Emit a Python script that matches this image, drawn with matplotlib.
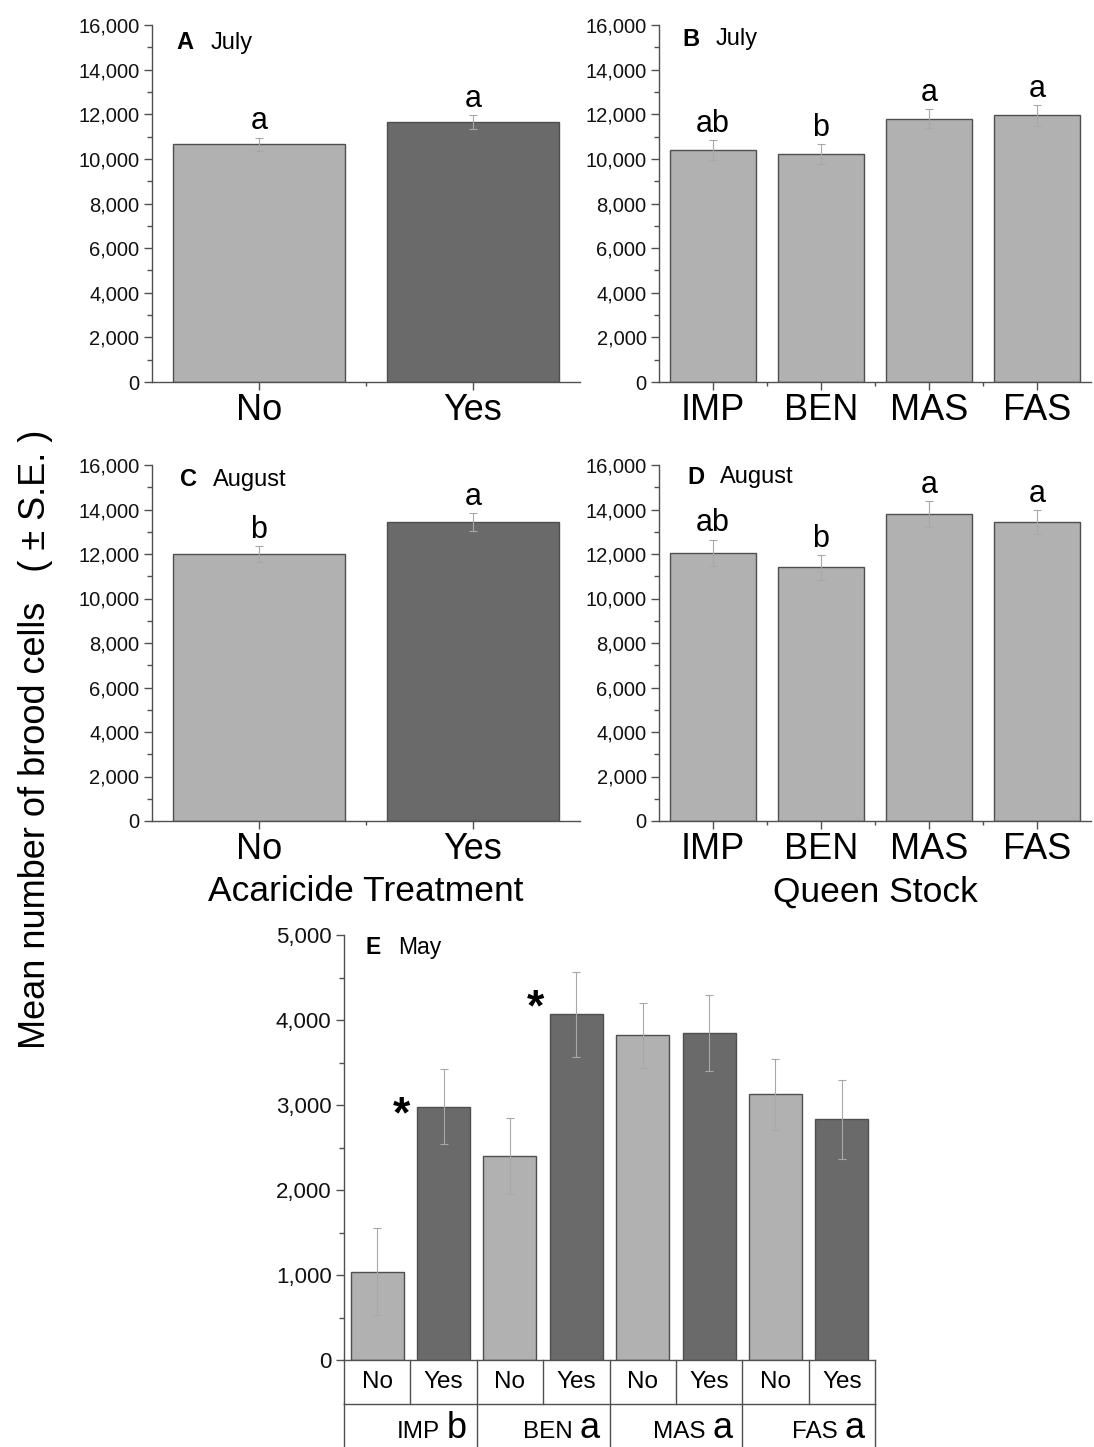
import matplotlib
matplotlib.use('Agg')
import matplotlib.pyplot as plt
import matplotlib.transforms as mtransforms
from matplotlib.ticker import MultipleLocator, StrMethodFormatter, FixedLocator
import numpy as np

plt.rcParams['font.family'] = ['Liberation Sans', 'DejaVu Sans']

LIGHT = '#b1b1b1'
DARK = '#6a6a6a'
EDGE = '#4f4f4f'
ERR = '#a8a8a8'
SPINE = '#505050'

treatment = ['No', 'Yes']
stocks = ['IMP', 'BEN', 'MAS', 'FAS']

# A: July, by acaricide treatment
july_trt = [10650, 11650]
july_trt_se = [300, 300]
july_trt_grp = ['a', 'a']

# B: July, by queen stock
july_stock = [10400, 10200, 11800, 11950]
july_stock_se = [450, 450, 430, 470]
july_stock_grp = ['ab', 'b', 'a', 'a']

# C: August, by acaricide treatment
aug_trt = [12000, 13450]
aug_trt_se = [350, 400]
aug_trt_grp = ['b', 'a']

# D: August, by queen stock
aug_stock = [12050, 11400, 13800, 13450]
aug_stock_se = [600, 550, 580, 530]
aug_stock_grp = ['ab', 'b', 'a', 'a']

# E: May, stock x treatment
may_no = [1040, 2400, 3820, 3125]
may_no_se = [510, 445, 380, 420]
may_yes = [2980, 4065, 3845, 2830]
may_yes_se = [440, 500, 450, 460]
may_stock_grp = ['b', 'a', 'a', 'a']
may_star_x = [0.36, 2.39]
may_star_y = [2740, 4000]

W, H = 1094, 1447
fig = plt.figure(figsize=(W / 100, H / 100), dpi=100)


def style_axis(ax, ysize):
    for s in ['top', 'right']:
        ax.spines[s].set_visible(False)
    for s in ['left', 'bottom']:
        ax.spines[s].set_color(SPINE)
        ax.spines[s].set_linewidth(1)
    ax.tick_params(axis='y', which='major', length=6, width=1, color=SPINE,
                   labelsize=ysize, pad=3, labelcolor='#111111')
    ax.tick_params(axis='y', which='minor', length=3.5, width=1, color=SPINE)
    ax.yaxis.set_major_formatter(StrMethodFormatter('{x:,.0f}'))


def panel_title(ax, tag, month, fx, fy, size=17):
    ax.text(fx, fy, tag, transform=ax.transAxes, fontsize=size,
            fontweight='bold', va='center', ha='left')
    tr = mtransforms.offset_copy(ax.transAxes, fig=fig, x=24, y=0, units='points')
    ax.text(fx, fy, month, transform=tr, fontsize=size, va='center', ha='left')


def small_panel(rect, labels, vals, se, grp, colors, tag, month, tpos, xlabel=None):
    ax = fig.add_axes(rect)
    x = np.arange(len(vals))
    ax.bar(x, vals, width=0.8, color=colors, edgecolor=EDGE, linewidth=1, zorder=2)
    ax.errorbar(x, vals, yerr=se, fmt='none', ecolor=ERR, elinewidth=0.8,
                capsize=3, capthick=0.8, zorder=3)
    for xi, v, s, g in zip(x, vals, se, grp):
        ax.text(xi, v + s + 370, g, ha='center', va='baseline', fontsize=22)
    ax.set_xlim(-0.5, len(vals) - 0.5)
    ax.set_ylim(0, 16000)
    ax.yaxis.set_major_locator(MultipleLocator(2000))
    ax.yaxis.set_minor_locator(MultipleLocator(1000))
    style_axis(ax, 14.5)
    ax.set_xticks(x)
    ax.set_xticklabels(labels, fontsize=26)
    ax.xaxis.set_minor_locator(FixedLocator(np.arange(0.5, len(vals) - 1, 1.0)))
    ax.tick_params(axis='x', which='major', length=6, width=1, color=SPINE, pad=2)
    ax.tick_params(axis='x', which='minor', length=3, width=1, color=SPINE)
    if xlabel:
        ax.set_xlabel(xlabel, fontsize=25.5, labelpad=6)
    panel_title(ax, tag, month, *tpos)
    return ax


rowA = [1 - 382 / H, 357 / H]
rowC = [1 - 821 / H, 356 / H]
small_panel([152 / W, rowA[0], 428 / W, rowA[1]], treatment, july_trt, july_trt_se,
            july_trt_grp, [LIGHT, DARK], 'A', 'July', (0.058, 0.95))
small_panel([659 / W, rowA[0], 432 / W, rowA[1]], stocks, july_stock, july_stock_se,
            july_stock_grp, LIGHT, 'B', 'July', (0.053, 0.96))
small_panel([152 / W, rowC[0], 428 / W, rowC[1]], treatment, aug_trt, aug_trt_se,
            aug_trt_grp, [LIGHT, DARK], 'C', 'August', (0.065, 0.958),
            xlabel='Acaricide Treatment')
small_panel([659 / W, rowC[0], 432 / W, rowC[1]], stocks, aug_stock, aug_stock_se,
            aug_stock_grp, LIGHT, 'D', 'August', (0.065, 0.966),
            xlabel='Queen Stock')

# E: May
axE = fig.add_axes([344 / W, 1 - 1360 / H, 531 / W, 425 / H])
may_vals = [v for pair in zip(may_no, may_yes) for v in pair]
may_se = [s for pair in zip(may_no_se, may_yes_se) for s in pair]
may_cols = [LIGHT, DARK] * len(stocks)
xe = np.arange(len(may_vals))
axE.bar(xe, may_vals, width=0.8, color=may_cols, edgecolor=EDGE, linewidth=1, zorder=2)
axE.errorbar(xe, may_vals, yerr=may_se, fmt='none', ecolor=ERR, elinewidth=0.8,
             capsize=3, capthick=0.8, zorder=3)
for sx, sy in zip(may_star_x, may_star_y):
    axE.text(sx, sy, '*', ha='center', va='baseline', fontsize=32, fontweight='bold')
axE.set_xlim(-0.5, len(may_vals) - 0.5)
axE.set_ylim(0, 5000)
axE.yaxis.set_major_locator(MultipleLocator(1000))
axE.yaxis.set_minor_locator(MultipleLocator(500))
style_axis(axE, 16)
axE.set_xticks([])
panel_title(axE, 'E', 'May', 0.04, 0.97, size=16.5)

# table under panel E
trans = mtransforms.blended_transform_factory(axE.transData, axE.transAxes)
row1 = -44 / 425
bottom = -0.3
line_kw = dict(color=SPINE, linewidth=1, transform=trans, clip_on=False)
for b in np.arange(-0.5, len(may_vals) + 0.5):
    axE.plot([b, b], [0, row1], **line_kw)
for b in np.arange(-0.5, len(may_vals) + 0.5, 2):
    axE.plot([b, b], [row1, bottom], **line_kw)
axE.plot([-0.5, len(may_vals) - 0.5], [row1, row1], **line_kw)
for xi in xe:
    axE.text(xi, row1 / 2, treatment[xi % 2], transform=trans, ha='center',
             va='center', fontsize=17.5)
for i, (name, g) in enumerate(zip(stocks, may_stock_grp)):
    right = 2 * i + 1.5
    axE.text(right - 0.15, -0.1835, g, transform=trans, ha='right',
             va='baseline', fontsize=26)
    axE.text(right - 0.56, -0.1835, name, transform=trans, ha='right',
             va='baseline', fontsize=17.5)

fig.text(0.032, 0.489, 'Mean number of brood cells   ( \u00b1 S.E. )', rotation=90,
         fontsize=26, ha='center', va='center')

fig.savefig('out.png', dpi=100)
